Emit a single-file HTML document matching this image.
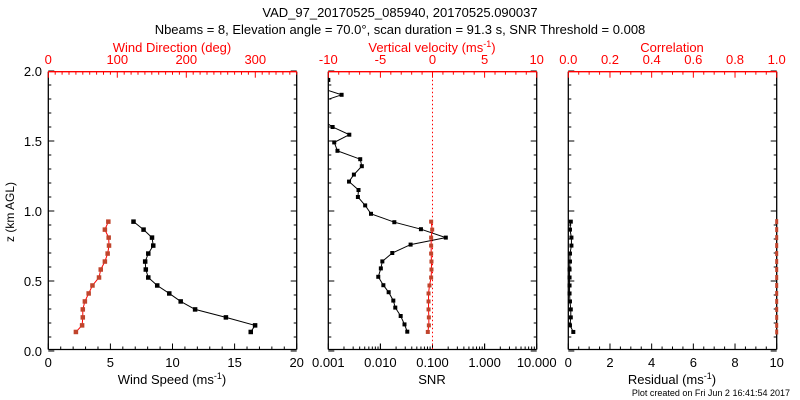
<!DOCTYPE html>
<html><head><meta charset="utf-8"><style>
body{margin:0;background:#fff;}
svg{display:block;font-family:"Liberation Sans",sans-serif;}
</style></head><body>
<svg id="c" width="800" height="400" viewBox="0 0 800 400">
<text x="400" y="17" font-size="13" text-anchor="middle">VAD_97_20170525_085940, 20170525.090037</text>
<text x="400" y="34" font-size="13" text-anchor="middle">Nbeams = 8, Elevation angle = 70.0°, scan duration = 91.3 s, SNR Threshold = 0.008</text>
<text x="14" y="212" font-size="12" text-anchor="middle" transform="rotate(-90 14 212)">z (km AGL)</text>
<text x="790" y="396" font-size="9" text-anchor="end">Plot created on Fri Jun  2 16:41:54 2017</text>
</svg>
<script>
// ---- data ----
const zLow = [0.924,0.867,0.81,0.753,0.696,0.639,0.582,0.525,0.468,0.411,0.354,0.297,0.24,0.183,0.136];
const windSpeed = [6.86,7.67,8.35,8.45,8.05,7.8,7.85,8.05,8.77,9.74,10.66,11.82,14.3,16.65,16.3];
const windDir = [87,82,87.5,88,86,82,76,73.5,64,58.5,53,50,50,49,40];
const zSnr = [1.936,1.88,1.83,1.77,1.71,1.66,1.60,1.545,1.49,1.43,1.37,1.32,1.26,1.21,1.15,1.10,1.04,0.98,0.92,0.87,0.81,0.76,0.70,0.64,0.59,0.53,0.47,0.42,0.36,0.31,0.25,0.19,0.138];
const snrValues = [0.001,0.0007,0.0018,0.0006,0.0005,0.0007,0.00121,0.00253,0.0013,0.0015,0.0041,0.0044,0.0031,0.0025,0.0038,0.0037,0.0051,0.0066,0.0185,0.060,0.18,0.038,0.0169,0.0109,0.0102,0.0091,0.0114,0.0144,0.0177,0.0193,0.0245,0.029,0.0328];
const vertVel = [-0.13,-0.03,-0.13,-0.13,-0.13,-0.1,-0.1,-0.13,-0.29,-0.38,-0.38,-0.38,-0.35,-0.35,-0.45];
const residual = [0.12,0.08,0.15,0.15,0.08,0.08,0.06,0.06,0.06,0.06,0.08,0.12,0.12,0.08,0.24];
const correlation = [1,1,1,1,1,1,1,1,1,1,1,1,1,1,1];
const leftYTicks = ["0.0","0.5","1.0","1.5","2.0"];
const speedTicks = ["0","5","10","15","20"];
const dirTicks = ["0","100","200","300"];
const velTicks = ["-10","-5","0","5","10"];
const snrTicks = ["0.001","0.010","0.100","1.000","10.000"];
const resTicks = ["0","2","4","6","8","10"];
const corrTicks = ["0.0","0.2","0.4","0.6","0.8","1.0"];

const NS="http://www.w3.org/2000/svg", svg=document.getElementById('c');
const T=71.7, B=349.5, RED="#ff0000", MARK="#c0442c";
const yS=z=>351-z*140;
function el(t,a,p){const e=document.createElementNS(NS,t);for(const k in a)e.setAttribute(k,a[k]);(p||svg).appendChild(e);return e;}
function lin(d0,d1,r0,r1){return v=>r0+(v-d0)/(d1-d0)*(r1-r0);}
function logS(d0,d1,r0,r1){return v=>r0+(Math.log10(v)-Math.log10(d0))/(Math.log10(d1)-Math.log10(d0))*(r1-r0);}

function panel(name,x0,x1){
  const g=el('g',{});
  
  
  const cp=el('clipPath',{id:'cp-'+name},g);el('rect',{x:x0,y:T,width:x1-x0,height:B-T},cp);
  for(let i=0;i<=20;i++){const y=yS(i*0.1),L=i%5==0?6:3;
    el('line',{x1:x0,x2:x0+L,y1:y,y2:y,stroke:'#000'},g);el('line',{x1:x1,x2:x1-L,y1:y,y2:y,stroke:'#000'},g);}
  return g;
}
function frame(g,x0,x1,topColor){
  el('line',{x1:x0,x2:x1,y1:B,y2:B,stroke:'#000','stroke-width':1.3},g);
  el('line',{x1:x0,x2:x0,y1:T,y2:B,stroke:'#000','stroke-width':1.3},g);
  el('line',{x1:x1,x2:x1,y1:T,y2:B,stroke:'#000','stroke-width':1.3},g);
  el('line',{x1:x0,x2:x1,y1:T,y2:T,stroke:topColor,'stroke-width':1.3},g);
}
function linTicks(g,sc,d0,d1,minor,major,y,dir,color,labels,ly,lname){
  const n=Math.round((d1-d0)/minor);
  for(let i=0;i<=n;i++){const v=d0+i*minor,x=sc(v),isM=Math.abs(v/major-Math.round(v/major))<1e-6;
    el('line',{x1:x,x2:x,y1:y,y2:y+dir*(isM?6:3),stroke:color},g);}
  labels.forEach(l=>{const t=el('text',{x:sc(parseFloat(l)),y:ly,'font-size':13,'text-anchor':'middle',fill:color},g);t.textContent=l;
    });
}
function series(g,sc,xs,zs,color,mcol,clip,name,ms){
  ms=ms||4.5;
  const pts=xs.map((v,i)=>[sc(v),yS(zs[i])]);
  const sg=el('g',clip?{'clip-path':'url(#'+clip+')'}:{},g);
  
  
  el('polyline',{points:pts.map(p=>p.join(',')).join(' '),fill:'none',stroke:color,'stroke-width':1},sg);
  pts.forEach(p=>{const r=el('rect',{x:p[0]-ms/2,y:p[1]-ms/2,width:ms,height:ms,fill:mcol},sg);
    });
}
function label(g,x,y,txt,color,name,sup){
  const t=el('text',{x:x,y:y,'font-size':13,'text-anchor':'middle',fill:color},g);
  
  t.appendChild(document.createTextNode(txt));
  if(sup){const s=el('tspan',{'font-size':9,dy:-5},t);s.textContent=sup;const e=el('tspan',{'font-size':13,dy:5},t);e.textContent=')';}
}

// Panel 1
let x0=48.3,x1=296.7,g=panel('wind-panel',x0,x1);
const sp=lin(0,20,x0,x1), wd=lin(0,360,x0,x1);
frame(g,x0,x1,RED);
linTicks(g,sp,0,20,1,5,B,-1,'#000',speedTicks,367,'speed-tick-label');
linTicks(g,wd,0,360,10,100,T,1,RED,dirTicks,64,'direction-tick-label');
leftYTicks.forEach(l=>{const t=el('text',{x:42,y:yS(parseFloat(l))+5,'font-size':13,'text-anchor':'end'},g);t.textContent=l;
  });
series(g,sp,windSpeed,zLow,'#000','#000',null,'wind-speed-series');
series(g,wd,windDir,zLow,RED,MARK,null,'wind-direction-series');
label(g,172,384,'Wind Speed (ms','#000','x-axis-title-speed','-1');
label(g,172,52,'Wind Direction (deg)',RED,'x-axis-title-direction');

// Panel 2
x0=328.3;x1=536.7;g=panel('snr-panel',x0,x1);
const sn=logS(0.001,10,x0,x1), vv=lin(-10,10,x0,x1);
frame(g,x0,x1,RED);
for(let d=-3;d<1;d++)for(let m=1;m<=10;m++){const x=sn(m*Math.pow(10,d));el('line',{x1:x,x2:x,y1:B,y2:B-(m==1||m==10?6:3),stroke:'#000'},g);}
snrTicks.forEach(l=>{const t=el('text',{x:sn(parseFloat(l)),y:367,'font-size':13,'text-anchor':'middle'},g);t.textContent=l;
  });
linTicks(g,vv,-10,10,1,5,T,1,RED,velTicks,64,'velocity-tick-label');
el('line',{x1:vv(0),x2:vv(0),y1:T,y2:B,stroke:RED,'stroke-dasharray':'1.5,2.5'},g);
series(g,sn,snrValues,zSnr,'#000','#000','cp-snr-panel','snr-series',4);
series(g,vv,vertVel,zLow,RED,MARK,null,'vertical-velocity-series',4);
label(g,432,384,'SNR','#000','x-axis-title-snr');
label(g,432,52,'Vertical velocity (ms',RED,'x-axis-title-velocity','-1');

// Panel 3
x0=568.3;x1=776.7;g=panel('residual-panel',x0,x1);
const rs=lin(0,10,x0,x1), cr=lin(0,1,x0,x1);
frame(g,x0,x1,RED);
linTicks(g,rs,0,10,0.5,2,B,-1,'#000',resTicks,367,'residual-tick-label');
linTicks(g,cr,0,1,0.05,0.2,T,1,RED,corrTicks,64,'correlation-tick-label');
series(g,rs,residual,zLow,'#000','#000',null,'residual-series',4);
const cg=el('g',{},g);


correlation.forEach((v,i)=>{const r=el('rect',{x:cr(v)-1.5,y:yS(zLow[i])-2.5,width:3,height:5,fill:MARK},cg);
  });
label(g,672,384,'Residual (ms','#000','x-axis-title-residual','-1');
label(g,672,52,'Correlation',RED,'x-axis-title-correlation');
</script>
</body></html>
